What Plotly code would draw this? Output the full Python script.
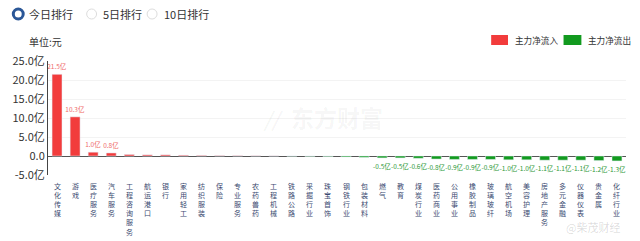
import plotly.graph_objects as go

categories = ["文化传媒", "游戏", "医疗服务", "汽车服务", "工程咨询服务", "航运港口", "银行", "家用轻工",
              "纺织服装", "保险", "专业服务", "农药兽药", "工程机械", "铁路公路", "采掘行业", "珠宝首饰",
              "钢铁行业", "包装材料", "燃气", "教育", "煤炭行业", "医药商业", "公用事业", "橡胶制品",
              "玻璃玻纤", "航空机场", "美容护理", "房地产服务", "多元金融", "仪器仪表", "贵金属", "化纤行业"]
values = [21.5, 10.3, 1.0, 0.8, 0.4, 0.3, 0.3, 0.2,
          0.15, 0.1, 0.08, 0.05, 0.03, -0.05, -0.1, -0.15,
          -0.25, -0.35, -0.5, -0.5, -0.6, -0.8, -0.9, -0.9,
          -0.9, -1.0, -1.0, -1.1, -1.1, -1.1, -1.2, -1.3]
y_tickvals = [-5, 0, 5, 10, 15, 20, 25]
y_ticktext = ["-5.0亿", "0.0", "5.0亿", "10.0亿", "15.0亿", "20.0亿", "25.0亿"]
tabs = ["今日排行", "5日排行", "10日排行"]
series_names = ["主力净流入", "主力净流出"]

RED = "#f23c3c"
GREEN = "#129a1f"
FONT = "Noto Sans CJK SC, Noto Sans, sans-serif"

L, R, T, B = 43, 14, 61, 66
W, H = 640, 241
PW, PH = W - L - R, H - T - B


def px(X):
    return (X - L) / PW


def py(Y):
    return (H - B - Y) / PH


pos = [v if v > 0 else None for v in values]
neg = [v if v <= 0 else None for v in values]
pos_txt = [f"{v:.1f}亿" if (v > 0 and abs(v) >= 0.5) else "" for v in values]
neg_txt = [f"{v:.1f}亿" if (v <= 0 and abs(v) >= 0.5) else "" for v in values]

fig = go.Figure()
fig.add_trace(go.Bar(x=categories, y=pos, name=series_names[0], marker_color=RED,
                     text=pos_txt, textposition="outside", cliponaxis=False,
                     textfont=dict(size=6.5, color="#ef6a6a", family=FONT),
                     constraintext="none", showlegend=False))
fig.add_trace(go.Bar(x=categories, y=neg, name=series_names[1], marker_color=GREEN,
                     text=neg_txt, textposition="outside", cliponaxis=False,
                     textfont=dict(size=6.5, color="#2f9a3a", family=FONT),
                     constraintext="none", showlegend=False))

annotations = []
# vertical category labels, one character per line
for cat in categories:
    annotations.append(dict(x=cat, xref="x", y=0, yref="paper", text="<br>".join(cat), showarrow=False,
                            yanchor="top", xanchor="center", yshift=-4,
                            font=dict(size=7, color="#3a4a70", family=FONT)))
# unit label
annotations.append(dict(x=px(22), xref="paper", y=py(42), yref="paper", text="单位:元", showarrow=False,
                        xanchor="left", yanchor="middle", font=dict(size=10, color="#333", family=FONT)))
# watermarks
annotations.append(dict(x=px(334), xref="paper", y=py(117), yref="paper", text="<b>东方财富</b>",
                        showarrow=False, xanchor="center", yanchor="middle",
                        font=dict(size=23, color="rgba(0,0,0,0.05)", family=FONT)))
annotations.append(dict(x=px(270), xref="paper", y=py(118), yref="paper", text="<b><i>//</i></b>",
                        showarrow=False, xanchor="center", yanchor="middle",
                        font=dict(size=20, color="rgba(0,0,0,0.05)", family=FONT)))
annotations.append(dict(x=px(622), xref="paper", y=py(227), yref="paper", text="@柴茂财经", showarrow=False,
                        xanchor="right", yanchor="middle",
                        font=dict(size=11, color="rgba(0,0,0,0.15)", family=FONT)))
# tabs
tab_x = [22, 96, 158]
for t, xx in zip(tabs, tab_x):
    annotations.append(dict(x=px(xx), xref="paper", y=py(14), yref="paper",
                            text=t, showarrow=False, xanchor="left", yanchor="middle",
                            font=dict(size=11, color="#333", family=FONT)))
# legend (manual)
legend_items = [(490, 507, 512, RED, series_names[0]), (563, 581, 586, GREEN, series_names[1])]
shapes = []
for x0, x1, tx, col, name in legend_items:
    shapes.append(dict(type="rect", xref="paper", yref="paper", x0=px(x0), x1=px(x1),
                       y0=py(45), y1=py(35), fillcolor=col, line=dict(width=0)))
    annotations.append(dict(x=px(tx), xref="paper", y=py(40), yref="paper", text=name, showarrow=False,
                            xanchor="left", yanchor="middle",
                            font=dict(size=8.6, color="#333", family=FONT)))

circ = [(13, True), (87, False), (148, False)]
for cx, active in circ:
    shapes.append(dict(type="circle", xref="paper", yref="paper", x0=px(cx - 5), x1=px(cx + 5),
                       y0=py(19), y1=py(9),
                       line=dict(color="#2b5797" if active else "#dddddd", width=3 if active else 1),
                       fillcolor="white"))

fig.update_layout(
    width=W, height=H,
    margin=dict(l=L, r=R, t=T, b=B),
    paper_bgcolor="white", plot_bgcolor="white",
    barmode="relative", bargap=0.45,
    font=dict(family=FONT, color="#333"),
    showlegend=False,
    annotations=annotations,
    shapes=shapes,
)
fig.update_xaxes(showticklabels=False, showgrid=False, zeroline=False, showline=False, ticks="",
                 type="category")
fig.update_yaxes(range=[-5, 25], tickvals=y_tickvals, ticktext=y_ticktext,
                 showgrid=True, gridcolor="#f3f3f3", zeroline=True, zerolinecolor="#555",
                 zerolinewidth=1, showline=True, linecolor="#444", linewidth=1,
                 tickfont=dict(size=11, color="#333", family=FONT), ticks="")

fig.write_html("out.html")
